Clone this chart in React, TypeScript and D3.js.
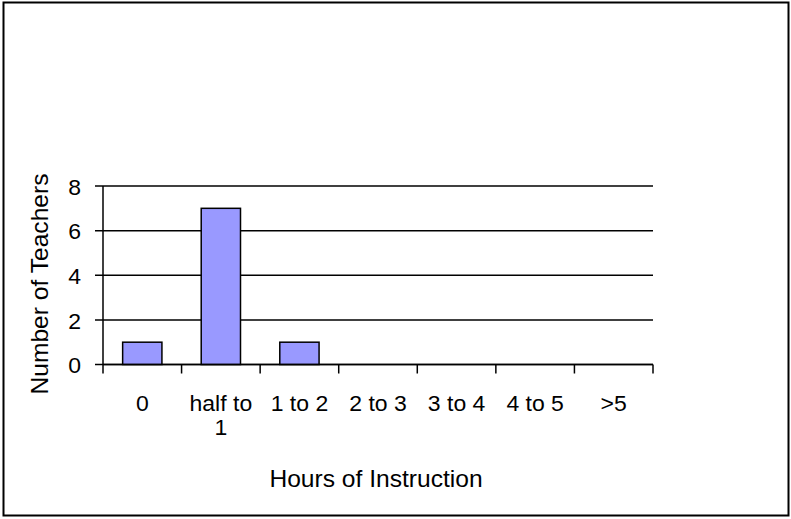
import React from "react";
import * as d3 from "d3";

const categories: string[] = ["0", "half to 1", "1 to 2", "2 to 3", "3 to 4", "4 to 5", ">5"];
const teachers: number[] = [1, 7, 1, 0, 0, 0, 0];
const yTicks: number[] = [0, 2, 4, 6, 8];
const xTitle = "Hours of Instruction";
const yTitle = "Number of Teachers";

const W = 791;
const H = 519;
const FONT = "'Liberation Sans', Arial, sans-serif";
const SX = 1.07;

function measure(text: string, size: number): number {
  const c = document.createElement("canvas").getContext("2d");
  if (!c) return text.length * size * 0.5;
  c.font = `${size}px ${FONT}`;
  return c.measureText(text).width * SX;
}

function wrap(text: string, maxW: number, size: number): string[] {
  const words = text.split(" ");
  const lines: string[] = [];
  let cur = "";
  for (const w of words) {
    const t = cur ? cur + " " + w : w;
    if (cur && measure(t, size) > maxW) {
      lines.push(cur);
      cur = w;
    } else cur = t;
  }
  if (cur) lines.push(cur);
  return lines;
}

export default function App() {
  const left = 103, right = 653, top = 186, bottom = 364.5;
  const x = d3.scaleBand<string>().domain(categories).range([left, right]).paddingInner(0.5).paddingOuter(0.25);
  const y = d3.scaleLinear().domain([0, 8]).range([bottom, top]);
  const step = x.step();
  const tickFs = 21.5;
  const titleFs = 23;
  const boundaries = d3.range(categories.length + 1).map((i) => left + i * step);

  return (
    <svg width={W} height={H} style={{ position: "absolute", left: 0, top: 0, background: "#fff" }} fontFamily={FONT}>
      <rect x={3.5} y={2.5} width={785} height={513} fill="#fff" stroke="#000" strokeWidth={2} />
      {yTicks.map((t) => (
        <line key={"g" + t} x1={95} x2={right} y1={y(t)} y2={y(t)} stroke="#000" strokeWidth={1.5} />
      ))}
      {yTicks.map((t) => (
        <text key={"yt" + t} transform={`translate(81,${y(t) + 1.5}) scale(${SX},1)`} textAnchor="end" dominantBaseline="central" fontSize={tickFs} fill="#000">
          {t}
        </text>
      ))}
      {categories.map((c, i) => (
        <rect key={"b" + c} x={x(c)} y={y(teachers[i])} width={x.bandwidth()} height={y(0) - y(teachers[i])} fill="#9999FF" stroke="#000" strokeWidth={1.5} />
      ))}
      <line x1={left} x2={left} y1={top} y2={bottom} stroke="#000" strokeWidth={1.5} />
      <line x1={left} x2={right} y1={bottom} y2={bottom} stroke="#000" strokeWidth={1.5} />
      {boundaries.map((b, i) => (
        <line key={"xt" + i} x1={b} x2={b} y1={bottom} y2={bottom + 9} stroke="#000" strokeWidth={1.5} />
      ))}
      {categories.map((c) => {
        const lines = wrap(c, step * 0.92, tickFs);
        const cx = (x(c) as number) + x.bandwidth() / 2;
        return lines.map((ln, j) => (
          <text key={"xl" + c + j} transform={`translate(${cx},${411 + j * 24}) scale(${SX},1)`} textAnchor="middle" fontSize={tickFs} fill="#000">
            {ln}
          </text>
        ));
      })}
      <text transform={`translate(376,487) scale(${SX},1)`} textAnchor="middle" fontSize={titleFs} fill="#000">
        {xTitle}
      </text>
      <text transform={`translate(48,284) rotate(-90) scale(${SX},1)`} textAnchor="middle" fontSize={titleFs} fill="#000">
        {yTitle}
      </text>
    </svg>
  );
}
